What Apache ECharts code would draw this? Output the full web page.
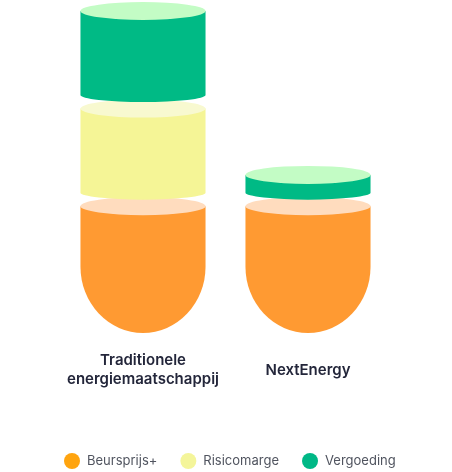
<!DOCTYPE html>
<html>
<head>
<meta charset="utf-8">
<script src="https://cdn.jsdelivr.net/npm/echarts@6/dist/echarts.min.js"></script>
<style>
html,body{margin:0;padding:0;background:#fff;}
#chart{width:452px;height:472px;}
</style>
</head>
<body>
<div id="chart"></div>
<script>
// ---- data ----
const categories = ['Traditionele\nenergiemaatschappij', 'NextEnergy'];
const seriesNames = ['Beursprijs+', 'Risicomarge', 'Vergoeding'];
const beursprijs = [13, 13];
const risicomarge = [10, 0];
const vergoeding = [10, 3.2];
const yMax = 33;

// ---- styles ----
const legendColors = ['#FFA40F', '#F4F59A', '#00B886'];
const bodyColors = ['#FF9A32', '#F5F596', '#00BA85'];
const capColors = ['#FFDCBE', '#F8F9D0', '#C3FCC5'];

const values = [beursprijs, risicomarge, vergoeding];

function buildData(s) {
  return categories.map((c, i) => {
    let base = 0;
    for (let k = 0; k < s; k++) base += values[k][i];
    return [i, base, base + values[s][i]];
  });
}

function makeRender(s) {
  return function (params, api) {
    const ci = api.value(0), b = api.value(1), t = api.value(2);
    if (t - b <= 0) return null;
    const pTop = api.coord([ci, t]);
    const pBase = api.coord([ci, b]);
    const band = api.size([1, 0])[0];
    const w = band * 0.758;
    const rx = w / 2;
    const cx = pTop[0];
    const yTop = pTop[1];
    const yBase = pBase[1];
    const ryTop = 9;
    let body;
    if (s === 0) {
      const ryB = rx * 1.06;
      const ySide = yBase - ryB;
      body = 'M' + (cx - rx) + ',' + yTop + ' L' + (cx - rx) + ',' + ySide +
        ' A' + rx + ' ' + ryB + ' 0 0 0 ' + (cx + rx) + ',' + ySide +
        ' L' + (cx + rx) + ',' + yTop + ' Z';
    } else {
      const gap = 13.5;
      const ryB = 7;
      const yEnd = yBase - gap;
      body = 'M' + (cx - rx) + ',' + yTop + ' L' + (cx - rx) + ',' + yEnd +
        ' A' + rx + ' ' + ryB + ' 0 0 0 ' + (cx + rx) + ',' + yEnd +
        ' L' + (cx + rx) + ',' + yTop + ' Z';
    }
    const cap = 'M' + (cx - rx) + ',' + yTop +
      ' A' + rx + ' ' + ryTop + ' 0 1 0 ' + (cx + rx) + ',' + yTop +
      ' A' + rx + ' ' + ryTop + ' 0 1 0 ' + (cx - rx) + ',' + yTop + ' Z';
    return {
      type: 'group',
      children: [
        { type: 'path', shape: { pathData: body }, style: { fill: bodyColors[s] } },
        { type: 'path', shape: { pathData: cap }, style: { fill: capColors[s] } }
      ]
    };
  };
}

const chart = echarts.init(document.getElementById('chart'), null, { renderer: 'canvas' });
chart.setOption({
  animation: false,
  backgroundColor: '#ffffff',
  grid: { top: 11, bottom: 139, left: 60.5, right: 61.5 },
  xAxis: {
    type: 'category',
    data: categories,
    axisLine: { show: false },
    axisTick: { show: false },
    splitLine: { show: false },
    axisLabel: {
      interval: 0,
      margin: 37,
      verticalAlign: 'middle',
      fontFamily: 'Inter',
      fontSize: 15,
      fontWeight: 600,
      lineHeight: 19,
      color: '#23263A'
    }
  },
  yAxis: { type: 'value', min: 0, max: yMax, show: false },
  legend: {
    data: seriesNames,
    left: 59,
    top: 448,
    icon: 'circle',
    itemWidth: 16,
    itemHeight: 16,
    itemGap: 23,
    textStyle: { fontFamily: 'Inter', fontSize: 13, color: '#50545F', padding: [0, 0, 0, 2] }
  },
  series: seriesNames.map((name, s) => ({
    type: 'custom',
    name: name,
    itemStyle: { color: legendColors[s] },
    renderItem: makeRender(s),
    encode: { x: 0, y: [1, 2] },
    data: buildData(s)
  }))
});
</script>
</body>
</html>
